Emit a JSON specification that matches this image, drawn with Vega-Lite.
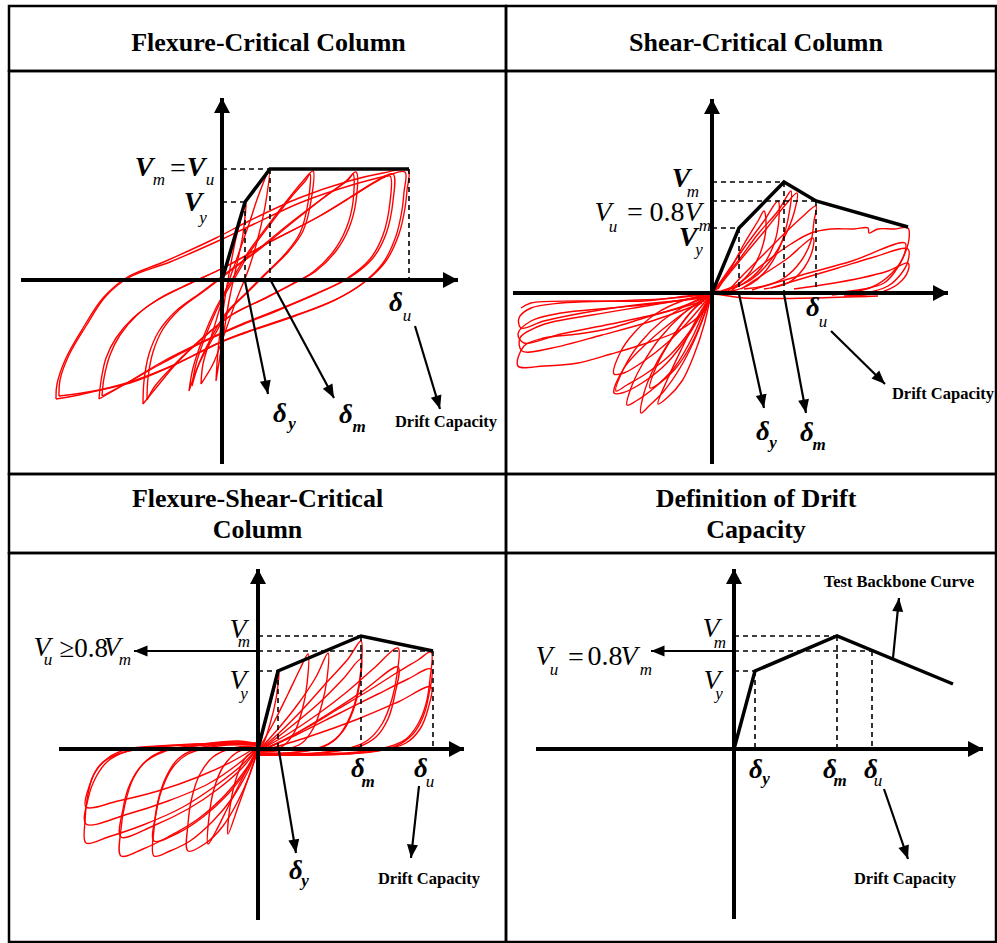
{
  "$schema": "https://vega.github.io/schema/vega-lite/v6.json",
  "description": "Hysteresis behaviour and backbone curves of flexure-, shear- and flexure-shear-critical columns, and the definition of drift capacity.",
  "padding": {"left": 7, "top": 4, "right": 0, "bottom": 0},
  "columns": 2,
  "spacing": 0,
  "bounds": "flush",
  "config": {
    "view": {"stroke": "black", "strokeWidth": 2.5},
    "concat": {"spacing": 0},
    "text": {"font": "Liberation Serif"}
  },
  "datasets": {
    "p1Loops": [
      {"cycle":"c6","drift":-166,"shear":-119},{"cycle":"c6","drift":-165,"shear":-104},{"cycle":"c6","drift":-156,"shear":-78},{"cycle":"c6","drift":-139,"shear":-48},{"cycle":"c6","drift":-119,"shear":-18},{"cycle":"c6","drift":-96,"shear":2},{"cycle":"c6","drift":-56,"shear":19},{"cycle":"c6","drift":-6,"shear":42},{"cycle":"c6","drift":27,"shear":59},{"cycle":"c6","drift":77,"shear":82},{"cycle":"c6","drift":127,"shear":99},{"cycle":"c6","drift":161,"shear":107},{"cycle":"c6","drift":186,"shear":110},{"cycle":"c6","drift":185,"shear":90},{"cycle":"c6","drift":183,"shear":72},{"cycle":"c6","drift":177,"shear":46},{"cycle":"c6","drift":164,"shear":19},{"cycle":"c6","drift":144,"shear":-1},{"cycle":"c6","drift":117,"shear":-18},{"cycle":"c6","drift":77,"shear":-34},{"cycle":"c6","drift":27,"shear":-51},{"cycle":"c6","drift":1,"shear":-61},{"cycle":"c6","drift":-46,"shear":-84},{"cycle":"c6","drift":-89,"shear":-101},{"cycle":"c6","drift":-139,"shear":-114},{"cycle":"c6","drift":-166,"shear":-119},
      {"cycle":"c6b","drift":-163,"shear":-116},{"cycle":"c6b","drift":-162,"shear":-100},{"cycle":"c6b","drift":-153,"shear":-75},{"cycle":"c6b","drift":-136,"shear":-46},{"cycle":"c6b","drift":-116,"shear":-16},{"cycle":"c6b","drift":-92,"shear":3},{"cycle":"c6b","drift":-52,"shear":18},{"cycle":"c6b","drift":-4,"shear":39},{"cycle":"c6b","drift":30,"shear":55},{"cycle":"c6b","drift":80,"shear":78},{"cycle":"c6b","drift":130,"shear":95},{"cycle":"c6b","drift":164,"shear":104},{"cycle":"c6b","drift":183,"shear":108},{"cycle":"c6b","drift":182,"shear":88},{"cycle":"c6b","drift":180,"shear":70},{"cycle":"c6b","drift":174,"shear":44},{"cycle":"c6b","drift":161,"shear":17},{"cycle":"c6b","drift":141,"shear":-3},{"cycle":"c6b","drift":113,"shear":-20},{"cycle":"c6b","drift":73,"shear":-36},{"cycle":"c6b","drift":23,"shear":-53},{"cycle":"c6b","drift":-3,"shear":-63},{"cycle":"c6b","drift":-50,"shear":-86},{"cycle":"c6b","drift":-92,"shear":-103},{"cycle":"c6b","drift":-140,"shear":-113},{"cycle":"c6b","drift":-163,"shear":-116},
      {"cycle":"c5","drift":-123,"shear":-119},{"cycle":"c5","drift":-121,"shear":-101},{"cycle":"c5","drift":-116,"shear":-78},{"cycle":"c5","drift":-106,"shear":-58},{"cycle":"c5","drift":-89,"shear":-38},{"cycle":"c5","drift":-66,"shear":-21},{"cycle":"c5","drift":-33,"shear":-4},{"cycle":"c5","drift":1,"shear":12},{"cycle":"c5","drift":44,"shear":36},{"cycle":"c5","drift":94,"shear":62},{"cycle":"c5","drift":127,"shear":82},{"cycle":"c5","drift":154,"shear":99},{"cycle":"c5","drift":171,"shear":106},{"cycle":"c5","drift":171,"shear":79},{"cycle":"c5","drift":164,"shear":46},{"cycle":"c5","drift":151,"shear":22},{"cycle":"c5","drift":127,"shear":2},{"cycle":"c5","drift":94,"shear":-14},{"cycle":"c5","drift":60,"shear":-28},{"cycle":"c5","drift":20,"shear":-44},{"cycle":"c5","drift":-20,"shear":-62},{"cycle":"c5","drift":-60,"shear":-82},{"cycle":"c5","drift":-95,"shear":-103},{"cycle":"c5","drift":-123,"shear":-119},
      {"cycle":"c5b","drift":-120,"shear":-116},{"cycle":"c5b","drift":-118,"shear":-98},{"cycle":"c5b","drift":-112,"shear":-75},{"cycle":"c5b","drift":-102,"shear":-55},{"cycle":"c5b","drift":-85,"shear":-35},{"cycle":"c5b","drift":-62,"shear":-18},{"cycle":"c5b","drift":-29,"shear":-2},{"cycle":"c5b","drift":5,"shear":14},{"cycle":"c5b","drift":48,"shear":38},{"cycle":"c5b","drift":98,"shear":64},{"cycle":"c5b","drift":131,"shear":84},{"cycle":"c5b","drift":157,"shear":100},{"cycle":"c5b","drift":168,"shear":104},{"cycle":"c5b","drift":168,"shear":78},{"cycle":"c5b","drift":161,"shear":45},{"cycle":"c5b","drift":148,"shear":21},{"cycle":"c5b","drift":124,"shear":1},{"cycle":"c5b","drift":91,"shear":-15},{"cycle":"c5b","drift":57,"shear":-30},{"cycle":"c5b","drift":17,"shear":-46},{"cycle":"c5b","drift":-23,"shear":-64},{"cycle":"c5b","drift":-63,"shear":-85},{"cycle":"c5b","drift":-97,"shear":-104},{"cycle":"c5b","drift":-120,"shear":-116},
      {"cycle":"c4","drift":-79,"shear":-124},{"cycle":"c4","drift":-78,"shear":-101},{"cycle":"c4","drift":-73,"shear":-74},{"cycle":"c4","drift":-63,"shear":-51},{"cycle":"c4","drift":-46,"shear":-31},{"cycle":"c4","drift":-19,"shear":-11},{"cycle":"c4","drift":7,"shear":9},{"cycle":"c4","drift":34,"shear":29},{"cycle":"c4","drift":67,"shear":56},{"cycle":"c4","drift":101,"shear":82},{"cycle":"c4","drift":124,"shear":99},{"cycle":"c4","drift":134,"shear":108},{"cycle":"c4","drift":134,"shear":79},{"cycle":"c4","drift":127,"shear":52},{"cycle":"c4","drift":114,"shear":29},{"cycle":"c4","drift":94,"shear":9},{"cycle":"c4","drift":71,"shear":-4},{"cycle":"c4","drift":44,"shear":-18},{"cycle":"c4","drift":11,"shear":-34},{"cycle":"c4","drift":-19,"shear":-58},{"cycle":"c4","drift":-46,"shear":-84},{"cycle":"c4","drift":-66,"shear":-108},{"cycle":"c4","drift":-79,"shear":-124},
      {"cycle":"c4b","drift":-75,"shear":-120},{"cycle":"c4b","drift":-74,"shear":-98},{"cycle":"c4b","drift":-69,"shear":-72},{"cycle":"c4b","drift":-59,"shear":-49},{"cycle":"c4b","drift":-42,"shear":-29},{"cycle":"c4b","drift":-15,"shear":-9},{"cycle":"c4b","drift":11,"shear":11},{"cycle":"c4b","drift":38,"shear":31},{"cycle":"c4b","drift":71,"shear":58},{"cycle":"c4b","drift":104,"shear":84},{"cycle":"c4b","drift":126,"shear":100},{"cycle":"c4b","drift":131,"shear":106},{"cycle":"c4b","drift":131,"shear":78},{"cycle":"c4b","drift":124,"shear":51},{"cycle":"c4b","drift":111,"shear":28},{"cycle":"c4b","drift":91,"shear":8},{"cycle":"c4b","drift":68,"shear":-5},{"cycle":"c4b","drift":41,"shear":-19},{"cycle":"c4b","drift":8,"shear":-36},{"cycle":"c4b","drift":-22,"shear":-60},{"cycle":"c4b","drift":-49,"shear":-86},{"cycle":"c4b","drift":-67,"shear":-106},{"cycle":"c4b","drift":-75,"shear":-120},
      {"cycle":"c3","drift":-33,"shear":-111},{"cycle":"c3","drift":-29,"shear":-88},{"cycle":"c3","drift":-19,"shear":-58},{"cycle":"c3","drift":-6,"shear":-28},{"cycle":"c3","drift":11,"shear":2},{"cycle":"c3","drift":27,"shear":29},{"cycle":"c3","drift":47,"shear":56},{"cycle":"c3","drift":67,"shear":82},{"cycle":"c3","drift":81,"shear":99},{"cycle":"c3","drift":91,"shear":109},{"cycle":"c3","drift":89,"shear":79},{"cycle":"c3","drift":81,"shear":49},{"cycle":"c3","drift":67,"shear":29},{"cycle":"c3","drift":47,"shear":9},{"cycle":"c3","drift":27,"shear":-11},{"cycle":"c3","drift":7,"shear":-31},{"cycle":"c3","drift":-9,"shear":-58},{"cycle":"c3","drift":-23,"shear":-84},{"cycle":"c3","drift":-33,"shear":-111},
      {"cycle":"c3b","drift":-30,"shear":-106},{"cycle":"c3b","drift":-26,"shear":-84},{"cycle":"c3b","drift":-16,"shear":-55},{"cycle":"c3b","drift":-3,"shear":-25},{"cycle":"c3b","drift":14,"shear":4},{"cycle":"c3b","drift":30,"shear":31},{"cycle":"c3b","drift":50,"shear":58},{"cycle":"c3b","drift":70,"shear":84},{"cycle":"c3b","drift":84,"shear":100},{"cycle":"c3b","drift":88,"shear":106},{"cycle":"c3b","drift":86,"shear":77},{"cycle":"c3b","drift":78,"shear":47},{"cycle":"c3b","drift":64,"shear":27},{"cycle":"c3b","drift":44,"shear":7},{"cycle":"c3b","drift":24,"shear":-13},{"cycle":"c3b","drift":4,"shear":-33},{"cycle":"c3b","drift":-12,"shear":-60},{"cycle":"c3b","drift":-24,"shear":-86},{"cycle":"c3b","drift":-30,"shear":-106},
      {"cycle":"c2","drift":-21,"shear":-104},{"cycle":"c2","drift":-19,"shear":-84},{"cycle":"c2","drift":-9,"shear":-51},{"cycle":"c2","drift":1,"shear":-18},{"cycle":"c2","drift":14,"shear":19},{"cycle":"c2","drift":27,"shear":56},{"cycle":"c2","drift":37,"shear":86},{"cycle":"c2","drift":47,"shear":109},{"cycle":"c2","drift":44,"shear":79},{"cycle":"c2","drift":37,"shear":46},{"cycle":"c2","drift":27,"shear":12},{"cycle":"c2","drift":14,"shear":-21},{"cycle":"c2","drift":1,"shear":-58},{"cycle":"c2","drift":-9,"shear":-84},{"cycle":"c2","drift":-21,"shear":-104},
      {"cycle":"c1","drift":-6,"shear":-101},{"cycle":"c1","drift":-4,"shear":-71},{"cycle":"c1","drift":1,"shear":-31},{"cycle":"c1","drift":7,"shear":6},{"cycle":"c1","drift":14,"shear":42},{"cycle":"c1","drift":21,"shear":69},{"cycle":"c1","drift":24,"shear":79},{"cycle":"c1","drift":21,"shear":46},{"cycle":"c1","drift":14,"shear":12},{"cycle":"c1","drift":7,"shear":-21},{"cycle":"c1","drift":1,"shear":-58},{"cycle":"c1","drift":-6,"shear":-101}
    ],
    "p1Backbone": [
      {"drift":0,"shear":0},{"drift":23,"shear":78},{"drift":48,"shear":111},{"drift":187,"shear":111}
    ],
    "p1Guides": [
      {"drift":0,"shear":78,"drift2":23,"shear2":78},
      {"drift":0,"shear":111,"drift2":48,"shear2":111},
      {"drift":23,"shear":78,"drift2":23,"shear2":0},
      {"drift":48,"shear":111,"drift2":48,"shear2":0},
      {"drift":187,"shear":111,"drift2":187,"shear2":0}
    ],
    "p1Axes": [
      {"drift":-201,"shear":0,"drift2":236,"shear2":0},
      {"drift":0,"shear":-184,"drift2":0,"shear2":182}
    ],
    "p1Pointers": [
      {"drift":23,"shear":-1,"drift2":46,"shear2":-114},
      {"drift":49,"shear":-1,"drift2":112,"shear2":-118},
      {"drift":193,"shear":-46,"drift2":218,"shear2":-129}
    ],
    "p1Labels": [
      {"label":"Vm","role":"V","text":"V","drift":-78,"shear":112},
      {"label":"Vm","role":"sub","text":"m","drift":-63,"shear":100},
      {"label":"Vu","role":"op","text":"=","drift":-44,"shear":111},
      {"label":"Vu","role":"V","text":"V","drift":-26,"shear":112},
      {"label":"Vu","role":"sub","text":"u","drift":-12,"shear":100},
      {"label":"Vy","role":"V","text":"V","drift":-29,"shear":77},
      {"label":"Vy","role":"sub","text":"y","drift":-19,"shear":62},
      {"label":"dy","role":"delta","text":"δ","drift":58,"shear":-134},
      {"label":"dy","role":"dsub","text":"y","drift":70,"shear":-144},
      {"label":"dm","role":"delta","text":"δ","drift":124,"shear":-135},
      {"label":"dm","role":"dsub","text":"m","drift":137,"shear":-147},
      {"label":"du","role":"delta","text":"δ","drift":174,"shear":-23},
      {"label":"du","role":"sub","text":"u","drift":185,"shear":-36},
      {"label":"drift","role":"note","text":"Drift Capacity","drift":224,"shear":-142}
    ],
    "p2Loops": [
      {"cycle":"s1","drift":3,"shear":4},{"cycle":"s1","drift":26,"shear":32},{"cycle":"s1","drift":46,"shear":59},{"cycle":"s1","drift":66,"shear":82},{"cycle":"s1","drift":79,"shear":102},{"cycle":"s1","drift":77,"shear":79},{"cycle":"s1","drift":69,"shear":49},{"cycle":"s1","drift":56,"shear":25},{"cycle":"s1","drift":39,"shear":9},{"cycle":"s1","drift":19,"shear":2},{"cycle":"s1","drift":3,"shear":2},
      {"cycle":"s2","drift":6,"shear":4},{"cycle":"s2","drift":19,"shear":25},{"cycle":"s2","drift":32,"shear":49},{"cycle":"s2","drift":46,"shear":72},{"cycle":"s2","drift":52,"shear":82},{"cycle":"s2","drift":54,"shear":65},{"cycle":"s2","drift":49,"shear":42},{"cycle":"s2","drift":39,"shear":22},{"cycle":"s2","drift":26,"shear":9},{"cycle":"s2","drift":9,"shear":2},
      {"cycle":"s3","drift":2,"shear":2},{"cycle":"s3","drift":16,"shear":22},{"cycle":"s3","drift":32,"shear":45},{"cycle":"s3","drift":52,"shear":72},{"cycle":"s3","drift":66,"shear":92},{"cycle":"s3","drift":67,"shear":75},{"cycle":"s3","drift":62,"shear":49},{"cycle":"s3","drift":49,"shear":25},{"cycle":"s3","drift":32,"shear":10},{"cycle":"s3","drift":12,"shear":2},
      {"cycle":"s4","drift":16,"shear":2},{"cycle":"s4","drift":32,"shear":19},{"cycle":"s4","drift":52,"shear":39},{"cycle":"s4","drift":72,"shear":59},{"cycle":"s4","drift":89,"shear":75},{"cycle":"s4","drift":104,"shear":87},{"cycle":"s4","drift":102,"shear":72},{"cycle":"s4","drift":99,"shear":52},{"cycle":"s4","drift":89,"shear":32},{"cycle":"s4","drift":72,"shear":15},{"cycle":"s4","drift":52,"shear":7},{"cycle":"s4","drift":32,"shear":4},
      {"cycle":"s5","drift":29,"shear":4},{"cycle":"s5","drift":52,"shear":19},{"cycle":"s5","drift":76,"shear":35},{"cycle":"s5","drift":92,"shear":49},{"cycle":"s5","drift":101,"shear":55},{"cycle":"s5","drift":101,"shear":45},{"cycle":"s5","drift":92,"shear":25},{"cycle":"s5","drift":76,"shear":10},{"cycle":"s5","drift":52,"shear":4},
      {"cycle":"s6","drift":19,"shear":2},{"cycle":"s6","drift":39,"shear":19},{"cycle":"s6","drift":59,"shear":35},{"cycle":"s6","drift":79,"shear":49},{"cycle":"s6","drift":99,"shear":60},{"cycle":"s6","drift":119,"shear":64},{"cycle":"s6","drift":142,"shear":64},{"cycle":"s6","drift":156,"shear":65},{"cycle":"s6","drift":157,"shear":60},{"cycle":"s6","drift":166,"shear":64},{"cycle":"s6","drift":182,"shear":64},{"cycle":"s6","drift":196,"shear":65},{"cycle":"s6","drift":197,"shear":54},{"cycle":"s6","drift":191,"shear":35},{"cycle":"s6","drift":182,"shear":20},{"cycle":"s6","drift":172,"shear":10},{"cycle":"s6","drift":152,"shear":4},{"cycle":"s6","drift":119,"shear":0},
      {"cycle":"s7","drift":59,"shear":5},{"cycle":"s7","drift":92,"shear":15},{"cycle":"s7","drift":126,"shear":25},{"cycle":"s7","drift":159,"shear":35},{"cycle":"s7","drift":196,"shear":44},{"cycle":"s7","drift":196,"shear":32},{"cycle":"s7","drift":189,"shear":19},{"cycle":"s7","drift":176,"shear":7},{"cycle":"s7","drift":152,"shear":0},{"cycle":"s7","drift":99,"shear":-1},
      {"cycle":"s8","drift":82,"shear":4},{"cycle":"s8","drift":116,"shear":9},{"cycle":"s8","drift":149,"shear":15},{"cycle":"s8","drift":176,"shear":22},{"cycle":"s8","drift":196,"shear":30},{"cycle":"s8","drift":196,"shear":22},{"cycle":"s8","drift":186,"shear":9},{"cycle":"s8","drift":166,"shear":0},{"cycle":"s8","drift":132,"shear":-3},
      {"cycle":"s9","drift":4,"shear":3},{"cycle":"s9","drift":30,"shear":35},{"cycle":"s9","drift":55,"shear":65},{"cycle":"s9","drift":75,"shear":90},{"cycle":"s9","drift":85,"shear":100},{"cycle":"s9","drift":82,"shear":80},{"cycle":"s9","drift":72,"shear":55},{"cycle":"s9","drift":58,"shear":32},{"cycle":"s9","drift":40,"shear":14},{"cycle":"s9","drift":20,"shear":4},
      {"cycle":"s10","drift":40,"shear":3},{"cycle":"s10","drift":90,"shear":18},{"cycle":"s10","drift":140,"shear":32},{"cycle":"s10","drift":193,"shear":50},{"cycle":"s10","drift":192,"shear":38},{"cycle":"s10","drift":180,"shear":20},{"cycle":"s10","drift":160,"shear":6},{"cycle":"s10","drift":120,"shear":-2},
      {"cycle":"a1","drift":166,"shear":-3},{"cycle":"a1","drift":99,"shear":-5},{"cycle":"a1","drift":32,"shear":-5},{"cycle":"a1","drift":-1,"shear":-1},{"cycle":"a1","drift":-68,"shear":-8},{"cycle":"a1","drift":-134,"shear":-8},{"cycle":"a1","drift":-181,"shear":-10},{"cycle":"a1","drift":-191,"shear":-15},
      {"cycle":"l1","drift":-1,"shear":-1},{"cycle":"l1","drift":-51,"shear":-6},{"cycle":"l1","drift":-101,"shear":-8},{"cycle":"l1","drift":-151,"shear":-10},{"cycle":"l1","drift":-181,"shear":-15},{"cycle":"l1","drift":-193,"shear":-25},{"cycle":"l1","drift":-191,"shear":-35},{"cycle":"l1","drift":-168,"shear":-28},{"cycle":"l1","drift":-118,"shear":-18},{"cycle":"l1","drift":-68,"shear":-11},{"cycle":"l1","drift":-18,"shear":-6},{"cycle":"l1","drift":-1,"shear":-3},
      {"cycle":"l2","drift":-1,"shear":-3},{"cycle":"l2","drift":-51,"shear":-10},{"cycle":"l2","drift":-101,"shear":-15},{"cycle":"l2","drift":-151,"shear":-20},{"cycle":"l2","drift":-181,"shear":-28},{"cycle":"l2","drift":-194,"shear":-41},{"cycle":"l2","drift":-188,"shear":-50},{"cycle":"l2","drift":-151,"shear":-41},{"cycle":"l2","drift":-101,"shear":-31},{"cycle":"l2","drift":-51,"shear":-20},{"cycle":"l2","drift":-8,"shear":-8},
      {"cycle":"l3","drift":-1,"shear":-2},{"cycle":"l3","drift":-34,"shear":-15},{"cycle":"l3","drift":-68,"shear":-25},{"cycle":"l3","drift":-101,"shear":-35},{"cycle":"l3","drift":-134,"shear":-41},{"cycle":"l3","drift":-168,"shear":-45},{"cycle":"l3","drift":-188,"shear":-53},{"cycle":"l3","drift":-194,"shear":-73},{"cycle":"l3","drift":-168,"shear":-73},{"cycle":"l3","drift":-134,"shear":-70},{"cycle":"l3","drift":-101,"shear":-61},{"cycle":"l3","drift":-68,"shear":-51},{"cycle":"l3","drift":-34,"shear":-38},{"cycle":"l3","drift":-8,"shear":-18},{"cycle":"l3","drift":-1,"shear":-5},
      {"cycle":"l4","drift":-1,"shear":-2},{"cycle":"l4","drift":-60,"shear":-12},{"cycle":"l4","drift":-120,"shear":-22},{"cycle":"l4","drift":-170,"shear":-32},{"cycle":"l4","drift":-192,"shear":-45},{"cycle":"l4","drift":-190,"shear":-58},{"cycle":"l4","drift":-160,"shear":-55},{"cycle":"l4","drift":-110,"shear":-42},{"cycle":"l4","drift":-60,"shear":-28},{"cycle":"l4","drift":-10,"shear":-10},
      {"cycle":"n1","drift":-3,"shear":-2},{"cycle":"n1","drift":-25,"shear":-12},{"cycle":"n1","drift":-50,"shear":-28},{"cycle":"n1","drift":-72,"shear":-50},{"cycle":"n1","drift":-88,"shear":-75},{"cycle":"n1","drift":-96,"shear":-98},{"cycle":"n1","drift":-85,"shear":-92},{"cycle":"n1","drift":-65,"shear":-80},{"cycle":"n1","drift":-42,"shear":-62},{"cycle":"n1","drift":-22,"shear":-38},{"cycle":"n1","drift":-8,"shear":-15},{"cycle":"n1","drift":-2,"shear":-3},
      {"cycle":"n2","drift":-3,"shear":-3},{"cycle":"n2","drift":-20,"shear":-18},{"cycle":"n2","drift":-40,"shear":-45},{"cycle":"n2","drift":-58,"shear":-75},{"cycle":"n2","drift":-68,"shear":-100},{"cycle":"n2","drift":-71,"shear":-120},{"cycle":"n2","drift":-62,"shear":-112},{"cycle":"n2","drift":-48,"shear":-98},{"cycle":"n2","drift":-32,"shear":-75},{"cycle":"n2","drift":-18,"shear":-48},{"cycle":"n2","drift":-7,"shear":-20},{"cycle":"n2","drift":-2,"shear":-4},
      {"cycle":"n3","drift":-3,"shear":-1},{"cycle":"n3","drift":-30,"shear":-8},{"cycle":"n3","drift":-55,"shear":-20},{"cycle":"n3","drift":-78,"shear":-40},{"cycle":"n3","drift":-92,"shear":-60},{"cycle":"n3","drift":-98,"shear":-81},{"cycle":"n3","drift":-88,"shear":-80},{"cycle":"n3","drift":-68,"shear":-68},{"cycle":"n3","drift":-45,"shear":-50},{"cycle":"n3","drift":-25,"shear":-30},{"cycle":"n3","drift":-8,"shear":-10},{"cycle":"n3","drift":-2,"shear":-2},
      {"cycle":"n4","drift":-2,"shear":-3},{"cycle":"n4","drift":-15,"shear":-25},{"cycle":"n4","drift":-30,"shear":-55},{"cycle":"n4","drift":-44,"shear":-85},{"cycle":"n4","drift":-54,"shear":-111},{"cycle":"n4","drift":-44,"shear":-104},{"cycle":"n4","drift":-30,"shear":-88},{"cycle":"n4","drift":-18,"shear":-62},{"cycle":"n4","drift":-8,"shear":-32},{"cycle":"n4","drift":-2,"shear":-6},
      {"cycle":"n5","drift":-3,"shear":-2},{"cycle":"n5","drift":-28,"shear":-20},{"cycle":"n5","drift":-52,"shear":-45},{"cycle":"n5","drift":-70,"shear":-72},{"cycle":"n5","drift":-81,"shear":-95},{"cycle":"n5","drift":-85,"shear":-112},{"cycle":"n5","drift":-76,"shear":-108},{"cycle":"n5","drift":-58,"shear":-95},{"cycle":"n5","drift":-38,"shear":-75},{"cycle":"n5","drift":-20,"shear":-45},{"cycle":"n5","drift":-7,"shear":-15},{"cycle":"n5","drift":-2,"shear":-3},
      {"cycle":"n6","drift":-2,"shear":-2},{"cycle":"n6","drift":-22,"shear":-20},{"cycle":"n6","drift":-40,"shear":-45},{"cycle":"n6","drift":-55,"shear":-72},{"cycle":"n6","drift":-62,"shear":-95},{"cycle":"n6","drift":-52,"shear":-90},{"cycle":"n6","drift":-36,"shear":-75},{"cycle":"n6","drift":-20,"shear":-50},{"cycle":"n6","drift":-8,"shear":-22},{"cycle":"n6","drift":-2,"shear":-3},
      {"cycle":"n7","drift":-2,"shear":-2},{"cycle":"n7","drift":-35,"shear":-25},{"cycle":"n7","drift":-65,"shear":-50},{"cycle":"n7","drift":-88,"shear":-75},{"cycle":"n7","drift":-98,"shear":-100},{"cycle":"n7","drift":-90,"shear":-100},{"cycle":"n7","drift":-70,"shear":-90},{"cycle":"n7","drift":-45,"shear":-70},{"cycle":"n7","drift":-22,"shear":-40},{"cycle":"n7","drift":-6,"shear":-12}
    ],
    "p2Backbone": [
      {"drift":0,"shear":0},{"drift":27,"shear":65},{"drift":72,"shear":111},{"drift":104,"shear":92},{"drift":196,"shear":66}
    ],
    "p2Guides": [
      {"drift":0,"shear":111,"drift2":72,"shear2":111},
      {"drift":0,"shear":92,"drift2":104,"shear2":92},
      {"drift":0,"shear":65,"drift2":27,"shear2":65},
      {"drift":27,"shear":65,"drift2":27,"shear2":0},
      {"drift":72,"shear":111,"drift2":72,"shear2":0},
      {"drift":104,"shear":92,"drift2":104,"shear2":0}
    ],
    "p2Axes": [
      {"drift":-199,"shear":0,"drift2":236,"shear2":0},
      {"drift":0,"shear":-171,"drift2":0,"shear2":194}
    ],
    "p2Pointers": [
      {"drift":27,"shear":-1,"drift2":52,"shear2":-115},
      {"drift":72,"shear":-1,"drift2":94,"shear2":-120},
      {"drift":119,"shear":-38,"drift2":173,"shear2":-91}
    ],
    "p2Labels": [
      {"label":"Vm","role":"V","text":"V","drift":-31,"shear":114},
      {"label":"Vm","role":"sub","text":"m","drift":-19,"shear":101},
      {"label":"Vu","role":"V","text":"V","drift":-109,"shear":80},
      {"label":"Vu","role":"sub","text":"u","drift":-99,"shear":66},
      {"label":"Vu","role":"op","text":"=","drift":-77,"shear":80},
      {"label":"Vu","role":"op","text":"0.8","drift":-45,"shear":80},
      {"label":"Vu","role":"V","text":"V","drift":-19,"shear":80},
      {"label":"Vu","role":"sub","text":"m","drift":-7,"shear":67},
      {"label":"Vy","role":"V","text":"V","drift":-24,"shear":55},
      {"label":"Vy","role":"sub","text":"y","drift":-13,"shear":43},
      {"label":"dy","role":"delta","text":"δ","drift":51,"shear":-139},
      {"label":"dy","role":"dsub","text":"y","drift":61,"shear":-150},
      {"label":"dm","role":"delta","text":"δ","drift":95,"shear":-140},
      {"label":"dm","role":"dsub","text":"m","drift":107,"shear":-152},
      {"label":"du","role":"delta","text":"δ","drift":101,"shear":-15},
      {"label":"du","role":"sub","text":"u","drift":111,"shear":-29},
      {"label":"drift","role":"note","text":"Drift Capacity","drift":231,"shear":-101}
    ],
    "p3Loops": [
      {"cycle":"p6","drift":0,"shear":-2},{"cycle":"p6","drift":20,"shear":6},{"cycle":"p6","drift":50,"shear":22},{"cycle":"p6","drift":80,"shear":40},{"cycle":"p6","drift":110,"shear":58},{"cycle":"p6","drift":140,"shear":77},{"cycle":"p6","drift":160,"shear":89},{"cycle":"p6","drift":173,"shear":97},{"cycle":"p6","drift":172,"shear":70},{"cycle":"p6","drift":168,"shear":45},{"cycle":"p6","drift":160,"shear":25},{"cycle":"p6","drift":148,"shear":10},{"cycle":"p6","drift":130,"shear":2},{"cycle":"p6","drift":100,"shear":-3},{"cycle":"p6","drift":60,"shear":-5},{"cycle":"p6","drift":20,"shear":-6},{"cycle":"p6","drift":0,"shear":-6},
      {"cycle":"p5","drift":0,"shear":-2},{"cycle":"p5","drift":30,"shear":15},{"cycle":"p5","drift":60,"shear":35},{"cycle":"p5","drift":90,"shear":58},{"cycle":"p5","drift":115,"shear":80},{"cycle":"p5","drift":140,"shear":101},{"cycle":"p5","drift":139,"shear":75},{"cycle":"p5","drift":134,"shear":50},{"cycle":"p5","drift":124,"shear":25},{"cycle":"p5","drift":110,"shear":9},{"cycle":"p5","drift":92,"shear":1},{"cycle":"p5","drift":60,"shear":-4},{"cycle":"p5","drift":20,"shear":-5},{"cycle":"p5","drift":0,"shear":-5},
      {"cycle":"p4","drift":0,"shear":-2},{"cycle":"p4","drift":20,"shear":15},{"cycle":"p4","drift":45,"shear":40},{"cycle":"p4","drift":70,"shear":68},{"cycle":"p4","drift":90,"shear":90},{"cycle":"p4","drift":103,"shear":108},{"cycle":"p4","drift":103,"shear":80},{"cycle":"p4","drift":98,"shear":50},{"cycle":"p4","drift":90,"shear":28},{"cycle":"p4","drift":78,"shear":10},{"cycle":"p4","drift":62,"shear":1},{"cycle":"p4","drift":30,"shear":-4},{"cycle":"p4","drift":0,"shear":-4},
      {"cycle":"p3","drift":0,"shear":-2},{"cycle":"p3","drift":20,"shear":20},{"cycle":"p3","drift":40,"shear":45},{"cycle":"p3","drift":58,"shear":72},{"cycle":"p3","drift":70,"shear":96},{"cycle":"p3","drift":69,"shear":70},{"cycle":"p3","drift":64,"shear":45},{"cycle":"p3","drift":56,"shear":22},{"cycle":"p3","drift":44,"shear":6},{"cycle":"p3","drift":25,"shear":-1},{"cycle":"p3","drift":0,"shear":-3},
      {"cycle":"p2","drift":0,"shear":-1},{"cycle":"p2","drift":15,"shear":25},{"cycle":"p2","drift":30,"shear":55},{"cycle":"p2","drift":42,"shear":80},{"cycle":"p2","drift":50,"shear":95},{"cycle":"p2","drift":49,"shear":65},{"cycle":"p2","drift":44,"shear":38},{"cycle":"p2","drift":36,"shear":16},{"cycle":"p2","drift":25,"shear":3},{"cycle":"p2","drift":10,"shear":-2},{"cycle":"p2","drift":0,"shear":-2},
      {"cycle":"p1","drift":0,"shear":0},{"cycle":"p1","drift":8,"shear":30},{"cycle":"p1","drift":15,"shear":55},{"cycle":"p1","drift":21,"shear":78},{"cycle":"p1","drift":18,"shear":50},{"cycle":"p1","drift":12,"shear":25},{"cycle":"p1","drift":5,"shear":5},{"cycle":"p1","drift":0,"shear":0},
      {"cycle":"p6b","drift":0,"shear":-3},{"cycle":"p6b","drift":40,"shear":15},{"cycle":"p6b","drift":80,"shear":35},{"cycle":"p6b","drift":120,"shear":55},{"cycle":"p6b","drift":150,"shear":70},{"cycle":"p6b","drift":173,"shear":80},{"cycle":"p6b","drift":171,"shear":55},{"cycle":"p6b","drift":165,"shear":32},{"cycle":"p6b","drift":155,"shear":15},{"cycle":"p6b","drift":138,"shear":3},{"cycle":"p6b","drift":100,"shear":-4},{"cycle":"p6b","drift":50,"shear":-6},{"cycle":"p6b","drift":0,"shear":-6},
      {"cycle":"p6c","drift":0,"shear":-3},{"cycle":"p6c","drift":50,"shear":12},{"cycle":"p6c","drift":100,"shear":30},{"cycle":"p6c","drift":140,"shear":47},{"cycle":"p6c","drift":173,"shear":62},{"cycle":"p6c","drift":170,"shear":40},{"cycle":"p6c","drift":162,"shear":20},{"cycle":"p6c","drift":148,"shear":6},{"cycle":"p6c","drift":120,"shear":-2},{"cycle":"p6c","drift":60,"shear":-6},{"cycle":"p6c","drift":0,"shear":-6},
      {"cycle":"p5b","drift":0,"shear":-3},{"cycle":"p5b","drift":35,"shear":14},{"cycle":"p5b","drift":70,"shear":35},{"cycle":"p5b","drift":105,"shear":58},{"cycle":"p5b","drift":140,"shear":82},{"cycle":"p5b","drift":137,"shear":55},{"cycle":"p5b","drift":130,"shear":30},{"cycle":"p5b","drift":118,"shear":12},{"cycle":"p5b","drift":100,"shear":2},{"cycle":"p5b","drift":60,"shear":-4},{"cycle":"p5b","drift":0,"shear":-5},
      {"cycle":"p4b","drift":0,"shear":-3},{"cycle":"p4b","drift":30,"shear":20},{"cycle":"p4b","drift":60,"shear":45},{"cycle":"p4b","drift":85,"shear":70},{"cycle":"p4b","drift":103,"shear":90},{"cycle":"p4b","drift":101,"shear":62},{"cycle":"p4b","drift":95,"shear":38},{"cycle":"p4b","drift":85,"shear":18},{"cycle":"p4b","drift":70,"shear":5},{"cycle":"p4b","drift":40,"shear":-3},{"cycle":"p4b","drift":0,"shear":-4},
      {"cycle":"q6","drift":0,"shear":2},{"cycle":"q6","drift":-15,"shear":-15},{"cycle":"q6","drift":-40,"shear":-35},{"cycle":"q6","drift":-75,"shear":-58},{"cycle":"q6","drift":-115,"shear":-76},{"cycle":"q6","drift":-150,"shear":-88},{"cycle":"q6","drift":-172,"shear":-94},{"cycle":"q6","drift":-173,"shear":-72},{"cycle":"q6","drift":-170,"shear":-45},{"cycle":"q6","drift":-164,"shear":-25},{"cycle":"q6","drift":-150,"shear":-9},{"cycle":"q6","drift":-130,"shear":0},{"cycle":"q6","drift":-100,"shear":3},{"cycle":"q6","drift":-60,"shear":5},{"cycle":"q6","drift":-20,"shear":8},{"cycle":"q6","drift":0,"shear":5},
      {"cycle":"q5","drift":0,"shear":1},{"cycle":"q5","drift":-12,"shear":-20},{"cycle":"q5","drift":-32,"shear":-45},{"cycle":"q5","drift":-60,"shear":-70},{"cycle":"q5","drift":-90,"shear":-88},{"cycle":"q5","drift":-115,"shear":-100},{"cycle":"q5","drift":-137,"shear":-107},{"cycle":"q5","drift":-137,"shear":-80},{"cycle":"q5","drift":-133,"shear":-55},{"cycle":"q5","drift":-125,"shear":-30},{"cycle":"q5","drift":-112,"shear":-12},{"cycle":"q5","drift":-95,"shear":-2},{"cycle":"q5","drift":-60,"shear":4},{"cycle":"q5","drift":-20,"shear":7},{"cycle":"q5","drift":0,"shear":4},
      {"cycle":"q4","drift":0,"shear":1},{"cycle":"q4","drift":-10,"shear":-22},{"cycle":"q4","drift":-25,"shear":-48},{"cycle":"q4","drift":-45,"shear":-72},{"cycle":"q4","drift":-68,"shear":-92},{"cycle":"q4","drift":-88,"shear":-102},{"cycle":"q4","drift":-104,"shear":-107},{"cycle":"q4","drift":-104,"shear":-80},{"cycle":"q4","drift":-100,"shear":-52},{"cycle":"q4","drift":-92,"shear":-28},{"cycle":"q4","drift":-80,"shear":-10},{"cycle":"q4","drift":-62,"shear":0},{"cycle":"q4","drift":-30,"shear":5},{"cycle":"q4","drift":0,"shear":4},
      {"cycle":"q3","drift":0,"shear":0},{"cycle":"q3","drift":-8,"shear":-25},{"cycle":"q3","drift":-20,"shear":-52},{"cycle":"q3","drift":-35,"shear":-77},{"cycle":"q3","drift":-52,"shear":-94},{"cycle":"q3","drift":-70,"shear":-102},{"cycle":"q3","drift":-70,"shear":-75},{"cycle":"q3","drift":-66,"shear":-48},{"cycle":"q3","drift":-58,"shear":-25},{"cycle":"q3","drift":-45,"shear":-8},{"cycle":"q3","drift":-25,"shear":1},{"cycle":"q3","drift":0,"shear":3},
      {"cycle":"q2","drift":0,"shear":0},{"cycle":"q2","drift":-15,"shear":-28},{"cycle":"q2","drift":-30,"shear":-58},{"cycle":"q2","drift":-42,"shear":-82},{"cycle":"q2","drift":-50,"shear":-95},{"cycle":"q2","drift":-49,"shear":-68},{"cycle":"q2","drift":-44,"shear":-40},{"cycle":"q2","drift":-35,"shear":-18},{"cycle":"q2","drift":-22,"shear":-4},{"cycle":"q2","drift":-8,"shear":1},{"cycle":"q2","drift":0,"shear":1},
      {"cycle":"q1","drift":0,"shear":0},{"cycle":"q1","drift":-10,"shear":-30},{"cycle":"q1","drift":-20,"shear":-58},{"cycle":"q1","drift":-30,"shear":-85},{"cycle":"q1","drift":-28,"shear":-58},{"cycle":"q1","drift":-22,"shear":-30},{"cycle":"q1","drift":-12,"shear":-8},{"cycle":"q1","drift":0,"shear":0},
      {"cycle":"q6b","drift":0,"shear":3},{"cycle":"q6b","drift":-20,"shear":-15},{"cycle":"q6b","drift":-50,"shear":-35},{"cycle":"q6b","drift":-90,"shear":-52},{"cycle":"q6b","drift":-130,"shear":-65},{"cycle":"q6b","drift":-172,"shear":-75},{"cycle":"q6b","drift":-170,"shear":-50},{"cycle":"q6b","drift":-162,"shear":-28},{"cycle":"q6b","drift":-150,"shear":-12},{"cycle":"q6b","drift":-130,"shear":-2},{"cycle":"q6b","drift":-80,"shear":4},{"cycle":"q6b","drift":0,"shear":6},
      {"cycle":"q6c","drift":0,"shear":3},{"cycle":"q6c","drift":-25,"shear":-12},{"cycle":"q6c","drift":-60,"shear":-28},{"cycle":"q6c","drift":-100,"shear":-42},{"cycle":"q6c","drift":-140,"shear":-52},{"cycle":"q6c","drift":-172,"shear":-58},{"cycle":"q6c","drift":-168,"shear":-35},{"cycle":"q6c","drift":-158,"shear":-16},{"cycle":"q6c","drift":-140,"shear":-5},{"cycle":"q6c","drift":-100,"shear":2},{"cycle":"q6c","drift":0,"shear":6},
      {"cycle":"q5b","drift":0,"shear":2},{"cycle":"q5b","drift":-15,"shear":-18},{"cycle":"q5b","drift":-40,"shear":-40},{"cycle":"q5b","drift":-70,"shear":-60},{"cycle":"q5b","drift":-105,"shear":-77},{"cycle":"q5b","drift":-137,"shear":-88},{"cycle":"q5b","drift":-135,"shear":-60},{"cycle":"q5b","drift":-128,"shear":-35},{"cycle":"q5b","drift":-115,"shear":-15},{"cycle":"q5b","drift":-95,"shear":-3},{"cycle":"q5b","drift":-50,"shear":4},{"cycle":"q5b","drift":0,"shear":5},
      {"cycle":"q4b","drift":0,"shear":2},{"cycle":"q4b","drift":-12,"shear":-22},{"cycle":"q4b","drift":-30,"shear":-45},{"cycle":"q4b","drift":-55,"shear":-68},{"cycle":"q4b","drift":-80,"shear":-84},{"cycle":"q4b","drift":-104,"shear":-92},{"cycle":"q4b","drift":-102,"shear":-65},{"cycle":"q4b","drift":-96,"shear":-40},{"cycle":"q4b","drift":-85,"shear":-18},{"cycle":"q4b","drift":-70,"shear":-5},{"cycle":"q4b","drift":-40,"shear":3},{"cycle":"q4b","drift":0,"shear":4}
    ],
    "p3Backbone": [
      {"drift":0,"shear":0},{"drift":20,"shear":78},{"drift":103,"shear":113},{"drift":175,"shear":98}
    ],
    "p3Guides": [
      {"drift":0,"shear":113,"drift2":103,"shear2":113},
      {"drift":0,"shear":98,"drift2":175,"shear2":98},
      {"drift":0,"shear":78,"drift2":20,"shear2":78},
      {"drift":20,"shear":78,"drift2":20,"shear2":0},
      {"drift":103,"shear":113,"drift2":103,"shear2":0},
      {"drift":175,"shear":98,"drift2":175,"shear2":0}
    ],
    "p3Axes": [
      {"drift":-199,"shear":0,"drift2":206,"shear2":0},
      {"drift":0,"shear":-171,"drift2":0,"shear2":180}
    ],
    "p3Pointers": [
      {"drift":0,"shear":98,"drift2":-124,"shear2":98},
      {"drift":21,"shear":-2,"drift2":38,"shear2":-104},
      {"drift":161,"shear":-37,"drift2":153,"shear2":-109}
    ],
    "p3Labels": [
      {"label":"Vu","role":"V","text":"V","drift":-216,"shear":101},
      {"label":"Vu","role":"sub","text":"u","drift":-210,"shear":89},
      {"label":"Vu","role":"op","text":"≥","drift":-191,"shear":100},
      {"label":"Vu","role":"op","text":"0.8","drift":-167,"shear":100},
      {"label":"Vu","role":"V","text":"V","drift":-146,"shear":101},
      {"label":"Vu","role":"sub","text":"m","drift":-133,"shear":89},
      {"label":"Vm","role":"V","text":"V","drift":-20,"shear":119},
      {"label":"Vm","role":"sub","text":"m","drift":-14,"shear":107},
      {"label":"Vy","role":"V","text":"V","drift":-20,"shear":68},
      {"label":"Vy","role":"sub","text":"y","drift":-14,"shear":55},
      {"label":"dm","role":"delta","text":"δ","drift":100,"shear":-20},
      {"label":"dm","role":"dsub","text":"m","drift":110,"shear":-33},
      {"label":"du","role":"delta","text":"δ","drift":163,"shear":-20},
      {"label":"du","role":"sub","text":"u","drift":172,"shear":-33},
      {"label":"dy","role":"delta","text":"δ","drift":38,"shear":-122},
      {"label":"dy","role":"dsub","text":"y","drift":47,"shear":-132},
      {"label":"drift","role":"note","text":"Drift Capacity","drift":171,"shear":-130}
    ],
    "p4Backbone": [
      {"drift":0,"shear":0},{"drift":21,"shear":78},{"drift":103,"shear":113},{"drift":219,"shear":65}
    ],
    "p4Guides": [
      {"drift":0,"shear":113,"drift2":103,"shear2":113},
      {"drift":0,"shear":98,"drift2":138,"shear2":98},
      {"drift":0,"shear":78,"drift2":21,"shear2":78},
      {"drift":21,"shear":78,"drift2":21,"shear2":0},
      {"drift":103,"shear":113,"drift2":103,"shear2":0},
      {"drift":138,"shear":98,"drift2":138,"shear2":0}
    ],
    "p4Axes": [
      {"drift":-198,"shear":0,"drift2":249,"shear2":0},
      {"drift":0,"shear":-170,"drift2":0,"shear2":180}
    ],
    "p4Pointers": [
      {"drift":0,"shear":98,"drift2":-83,"shear2":98},
      {"drift":159,"shear":91,"drift2":165,"shear2":151},
      {"drift":150,"shear":-40,"drift2":174,"shear2":-110}
    ],
    "p4Labels": [
      {"label":"Vu","role":"V","text":"V","drift":-190,"shear":92},
      {"label":"Vu","role":"sub","text":"u","drift":-180,"shear":79},
      {"label":"Vu","role":"op","text":"=","drift":-158,"shear":91},
      {"label":"Vu","role":"op","text":"0.8","drift":-129,"shear":92},
      {"label":"Vu","role":"V","text":"V","drift":-105,"shear":92},
      {"label":"Vu","role":"sub","text":"m","drift":-88,"shear":79},
      {"label":"Vm","role":"V","text":"V","drift":-23,"shear":120},
      {"label":"Vm","role":"sub","text":"m","drift":-14,"shear":106},
      {"label":"Vy","role":"V","text":"V","drift":-22,"shear":68},
      {"label":"Vy","role":"sub","text":"y","drift":-15,"shear":55},
      {"label":"dy","role":"delta","text":"δ","drift":22,"shear":-21},
      {"label":"dy","role":"dsub","text":"y","drift":32,"shear":-30},
      {"label":"dm","role":"delta","text":"δ","drift":96,"shear":-21},
      {"label":"dm","role":"dsub","text":"m","drift":106,"shear":-32},
      {"label":"du","role":"delta","text":"δ","drift":137,"shear":-21},
      {"label":"du","role":"sub","text":"u","drift":144,"shear":-32},
      {"label":"backbone","role":"note","text":"Test Backbone Curve","drift":165,"shear":167},
      {"label":"drift","role":"note","text":"Drift Capacity","drift":171,"shear":-130}
    ]
  },
  "concat": [
    {
      "width": 497, "height": 65,
      "data": {"values": [{"title": "Flexure-Critical Column", "across": 0.5, "down": 0.5}]},
      "mark": {"type": "text", "font": "Liberation Serif", "fontSize": 26, "fontWeight": "bold", "align": "center", "baseline": "middle", "dx": 11, "dy": 4},
      "encoding": {
        "x": {"field": "across", "type": "quantitative", "scale": {"domain": [0, 1]}, "axis": null},
        "y": {"field": "down", "type": "quantitative", "scale": {"domain": [0, 1]}, "axis": null},
        "text": {"field": "title"}
      }
    },
    {
      "width": 490, "height": 65,
      "data": {"values": [{"title": "Shear-Critical Column", "across": 0.5, "down": 0.5}]},
      "mark": {"type": "text", "font": "Liberation Serif", "fontSize": 26, "fontWeight": "bold", "align": "center", "baseline": "middle", "dx": 5, "dy": 4},
      "encoding": {
        "x": {"field": "across", "type": "quantitative", "scale": {"domain": [0, 1]}, "axis": null},
        "y": {"field": "down", "type": "quantitative", "scale": {"domain": [0, 1]}, "axis": null},
        "text": {"field": "title"}
      }
    },
    {
      "width": 497, "height": 403,
      "encoding": {
        "x": {"field": "drift", "type": "quantitative", "scale": {"domain": [-213, 284], "nice": false, "zero": false}, "axis": null},
        "y": {"field": "shear", "type": "quantitative", "scale": {"domain": [-194, 209], "nice": false, "zero": false}, "axis": null}
      },
      "layer": [
        {"data": {"name": "p1Loops"}, "mark": {"type": "line", "color": "#ff0000", "strokeWidth": 1.4, "interpolate": "catmull-rom", "clip": true}, "encoding": {"detail": {"field": "cycle"}, "order": {"value": null}}},
        {"data": {"name": "p1Guides"}, "mark": {"type": "rule", "color": "black", "strokeWidth": 1.6, "strokeDash": [5, 4], "clip": true}, "encoding": {"x2": {"field": "drift2"}, "y2": {"field": "shear2"}}},
        {"data": {"name": "p1Axes"}, "mark": {"type": "rule", "color": "black", "strokeWidth": 4, "clip": true}, "encoding": {"x2": {"field": "drift2"}, "y2": {"field": "shear2"}}},
        {"data": {"name": "p1Axes"}, "transform": [{"calculate": "atan2(datum.drift2 - datum.drift, datum.shear2 - datum.shear) * 180 / PI", "as": "heading"}, {"calculate": "datum.drift2", "as": "drift"}, {"calculate": "datum.shear2", "as": "shear"}], "mark": {"type": "point", "shape": "M0,0L0.8,1.5L-0.8,1.5Z", "filled": true, "color": "black", "opacity": 1, "size": 400, "clip": true}, "encoding": {"angle": {"field": "heading", "type": "quantitative", "scale": null}}},
        {"data": {"name": "p1Backbone"}, "mark": {"type": "line", "color": "black", "strokeWidth": 3.5, "strokeJoin": "miter", "clip": true}, "encoding": {"order": {"value": null}}},
        {"data": {"name": "p1Pointers"}, "mark": {"type": "rule", "color": "black", "strokeWidth": 2.2, "clip": true}, "encoding": {"x2": {"field": "drift2"}, "y2": {"field": "shear2"}}},
        {"data": {"name": "p1Pointers"}, "transform": [{"calculate": "atan2(datum.drift2 - datum.drift, datum.shear2 - datum.shear) * 180 / PI", "as": "heading"}, {"calculate": "datum.drift2", "as": "drift"}, {"calculate": "datum.shear2", "as": "shear"}], "mark": {"type": "point", "shape": "M0,0L0.55,1.35L-0.55,1.35Z", "filled": true, "color": "black", "opacity": 1, "size": 400, "clip": true}, "encoding": {"angle": {"field": "heading", "type": "quantitative", "scale": null}}},
        {"data": {"name": "p1Labels"}, "transform": [{"filter": "datum.role === 'V'"}], "mark": {"type": "text", "font": "Liberation Serif", "fontSize": 28, "fontStyle": "italic", "fontWeight": "bold", "align": "center", "baseline": "middle", "clip": true}, "encoding": {"text": {"field": "text"}}},
        {"data": {"name": "p1Labels"}, "transform": [{"filter": "datum.role === 'sub'"}], "mark": {"type": "text", "font": "Liberation Serif", "fontSize": 17, "fontStyle": "italic", "align": "center", "baseline": "middle", "clip": true}, "encoding": {"text": {"field": "text"}}},
        {"data": {"name": "p1Labels"}, "transform": [{"filter": "datum.role === 'op'"}], "mark": {"type": "text", "font": "Liberation Serif", "fontSize": 28, "align": "center", "baseline": "middle", "clip": true}, "encoding": {"text": {"field": "text"}}},
        {"data": {"name": "p1Labels"}, "transform": [{"filter": "datum.role === 'delta'"}], "mark": {"type": "text", "font": "Liberation Serif", "fontSize": 27, "fontStyle": "italic", "fontWeight": "bold", "align": "center", "baseline": "middle", "clip": true}, "encoding": {"text": {"field": "text"}}},
        {"data": {"name": "p1Labels"}, "transform": [{"filter": "datum.role === 'dsub'"}], "mark": {"type": "text", "font": "Liberation Serif", "fontSize": 17, "fontStyle": "italic", "fontWeight": "bold", "align": "center", "baseline": "middle", "clip": true}, "encoding": {"text": {"field": "text"}}},
        {"data": {"name": "p1Labels"}, "transform": [{"filter": "datum.role === 'note'"}], "mark": {"type": "text", "font": "Liberation Serif", "fontSize": 16.5, "fontWeight": "bold", "align": "center", "baseline": "middle", "clip": true}, "encoding": {"text": {"field": "text"}}}
      ]
    },
    {
      "width": 490, "height": 403,
      "encoding": {
        "x": {"field": "drift", "type": "quantitative", "scale": {"domain": [-206, 284], "nice": false, "zero": false}, "axis": null},
        "y": {"field": "shear", "type": "quantitative", "scale": {"domain": [-181, 222], "nice": false, "zero": false}, "axis": null}
      },
      "layer": [
        {"data": {"name": "p2Loops"}, "mark": {"type": "line", "color": "#ff0000", "strokeWidth": 1.4, "interpolate": "catmull-rom", "clip": true}, "encoding": {"detail": {"field": "cycle"}, "order": {"value": null}}},
        {"data": {"name": "p2Guides"}, "mark": {"type": "rule", "color": "black", "strokeWidth": 1.6, "strokeDash": [5, 4], "clip": true}, "encoding": {"x2": {"field": "drift2"}, "y2": {"field": "shear2"}}},
        {"data": {"name": "p2Axes"}, "mark": {"type": "rule", "color": "black", "strokeWidth": 4, "clip": true}, "encoding": {"x2": {"field": "drift2"}, "y2": {"field": "shear2"}}},
        {"data": {"name": "p2Axes"}, "transform": [{"calculate": "atan2(datum.drift2 - datum.drift, datum.shear2 - datum.shear) * 180 / PI", "as": "heading"}, {"calculate": "datum.drift2", "as": "drift"}, {"calculate": "datum.shear2", "as": "shear"}], "mark": {"type": "point", "shape": "M0,0L0.8,1.5L-0.8,1.5Z", "filled": true, "color": "black", "opacity": 1, "size": 400, "clip": true}, "encoding": {"angle": {"field": "heading", "type": "quantitative", "scale": null}}},
        {"data": {"name": "p2Backbone"}, "mark": {"type": "line", "color": "black", "strokeWidth": 3.5, "strokeJoin": "miter", "clip": true}, "encoding": {"order": {"value": null}}},
        {"data": {"name": "p2Pointers"}, "mark": {"type": "rule", "color": "black", "strokeWidth": 2.2, "clip": true}, "encoding": {"x2": {"field": "drift2"}, "y2": {"field": "shear2"}}},
        {"data": {"name": "p2Pointers"}, "transform": [{"calculate": "atan2(datum.drift2 - datum.drift, datum.shear2 - datum.shear) * 180 / PI", "as": "heading"}, {"calculate": "datum.drift2", "as": "drift"}, {"calculate": "datum.shear2", "as": "shear"}], "mark": {"type": "point", "shape": "M0,0L0.55,1.35L-0.55,1.35Z", "filled": true, "color": "black", "opacity": 1, "size": 400, "clip": true}, "encoding": {"angle": {"field": "heading", "type": "quantitative", "scale": null}}},
        {"data": {"name": "p2Labels"}, "transform": [{"filter": "datum.role === 'V' && datum.label !== 'Vu'"}], "mark": {"type": "text", "font": "Liberation Serif", "fontSize": 28, "fontStyle": "italic", "fontWeight": "bold", "align": "center", "baseline": "middle", "clip": true}, "encoding": {"text": {"field": "text"}}},
        {"data": {"name": "p2Labels"}, "transform": [{"filter": "datum.role === 'V' && datum.label === 'Vu'"}], "mark": {"type": "text", "font": "Liberation Serif", "fontSize": 28, "fontStyle": "italic", "align": "center", "baseline": "middle", "clip": true}, "encoding": {"text": {"field": "text"}}},
        {"data": {"name": "p2Labels"}, "transform": [{"filter": "datum.role === 'sub'"}], "mark": {"type": "text", "font": "Liberation Serif", "fontSize": 17, "fontStyle": "italic", "align": "center", "baseline": "middle", "clip": true}, "encoding": {"text": {"field": "text"}}},
        {"data": {"name": "p2Labels"}, "transform": [{"filter": "datum.role === 'op'"}], "mark": {"type": "text", "font": "Liberation Serif", "fontSize": 28, "align": "center", "baseline": "middle", "clip": true}, "encoding": {"text": {"field": "text"}}},
        {"data": {"name": "p2Labels"}, "transform": [{"filter": "datum.role === 'delta'"}], "mark": {"type": "text", "font": "Liberation Serif", "fontSize": 27, "fontStyle": "italic", "fontWeight": "bold", "align": "center", "baseline": "middle", "clip": true}, "encoding": {"text": {"field": "text"}}},
        {"data": {"name": "p2Labels"}, "transform": [{"filter": "datum.role === 'dsub'"}], "mark": {"type": "text", "font": "Liberation Serif", "fontSize": 17, "fontStyle": "italic", "fontWeight": "bold", "align": "center", "baseline": "middle", "clip": true}, "encoding": {"text": {"field": "text"}}},
        {"data": {"name": "p2Labels"}, "transform": [{"filter": "datum.role === 'note'"}], "mark": {"type": "text", "font": "Liberation Serif", "fontSize": 16.5, "fontWeight": "bold", "align": "center", "baseline": "middle", "clip": true}, "encoding": {"text": {"field": "text"}}}
      ]
    },
    {
      "width": 497, "height": 79,
      "data": {"values": [{"title": "Flexure-Shear-Critical\nColumn", "across": 0.5, "down": 0.5}]},
      "mark": {"type": "text", "font": "Liberation Serif", "fontSize": 26, "fontWeight": "bold", "align": "center", "baseline": "middle", "lineBreak": "\n", "lineHeight": 31, "dy": -15},
      "encoding": {
        "x": {"field": "across", "type": "quantitative", "scale": {"domain": [0, 1]}, "axis": null},
        "y": {"field": "down", "type": "quantitative", "scale": {"domain": [0, 1]}, "axis": null},
        "text": {"field": "title"}
      }
    },
    {
      "width": 490, "height": 79,
      "data": {"values": [{"title": "Definition of Drift\nCapacity", "across": 0.5, "down": 0.5}]},
      "mark": {"type": "text", "font": "Liberation Serif", "fontSize": 26, "fontWeight": "bold", "align": "center", "baseline": "middle", "lineBreak": "\n", "lineHeight": 31, "dx": 5, "dy": -15},
      "encoding": {
        "x": {"field": "across", "type": "quantitative", "scale": {"domain": [0, 1]}, "axis": null},
        "y": {"field": "down", "type": "quantitative", "scale": {"domain": [0, 1]}, "axis": null},
        "text": {"field": "title"}
      }
    },
    {
      "width": 497, "height": 389,
      "encoding": {
        "x": {"field": "drift", "type": "quantitative", "scale": {"domain": [-249, 248], "nice": false, "zero": false}, "axis": null},
        "y": {"field": "shear", "type": "quantitative", "scale": {"domain": [-193, 196], "nice": false, "zero": false}, "axis": null}
      },
      "layer": [
        {"data": {"name": "p3Loops"}, "mark": {"type": "line", "color": "#ff0000", "strokeWidth": 1.4, "interpolate": "catmull-rom", "clip": true}, "encoding": {"detail": {"field": "cycle"}, "order": {"value": null}}},
        {"data": {"name": "p3Guides"}, "mark": {"type": "rule", "color": "black", "strokeWidth": 1.6, "strokeDash": [5, 4], "clip": true}, "encoding": {"x2": {"field": "drift2"}, "y2": {"field": "shear2"}}},
        {"data": {"name": "p3Axes"}, "mark": {"type": "rule", "color": "black", "strokeWidth": 4, "clip": true}, "encoding": {"x2": {"field": "drift2"}, "y2": {"field": "shear2"}}},
        {"data": {"name": "p3Axes"}, "transform": [{"calculate": "atan2(datum.drift2 - datum.drift, datum.shear2 - datum.shear) * 180 / PI", "as": "heading"}, {"calculate": "datum.drift2", "as": "drift"}, {"calculate": "datum.shear2", "as": "shear"}], "mark": {"type": "point", "shape": "M0,0L0.8,1.5L-0.8,1.5Z", "filled": true, "color": "black", "opacity": 1, "size": 400, "clip": true}, "encoding": {"angle": {"field": "heading", "type": "quantitative", "scale": null}}},
        {"data": {"name": "p3Backbone"}, "mark": {"type": "line", "color": "black", "strokeWidth": 3.5, "strokeJoin": "miter", "clip": true}, "encoding": {"order": {"value": null}}},
        {"data": {"name": "p3Pointers"}, "mark": {"type": "rule", "color": "black", "strokeWidth": 2.2, "clip": true}, "encoding": {"x2": {"field": "drift2"}, "y2": {"field": "shear2"}}},
        {"data": {"name": "p3Pointers"}, "transform": [{"calculate": "atan2(datum.drift2 - datum.drift, datum.shear2 - datum.shear) * 180 / PI", "as": "heading"}, {"calculate": "datum.drift2", "as": "drift"}, {"calculate": "datum.shear2", "as": "shear"}], "mark": {"type": "point", "shape": "M0,0L0.55,1.35L-0.55,1.35Z", "filled": true, "color": "black", "opacity": 1, "size": 400, "clip": true}, "encoding": {"angle": {"field": "heading", "type": "quantitative", "scale": null}}},
        {"data": {"name": "p3Labels"}, "transform": [{"filter": "datum.role === 'V'"}], "mark": {"type": "text", "font": "Liberation Serif", "fontSize": 28, "fontStyle": "italic", "align": "center", "baseline": "middle", "clip": true}, "encoding": {"text": {"field": "text"}}},
        {"data": {"name": "p3Labels"}, "transform": [{"filter": "datum.role === 'sub'"}], "mark": {"type": "text", "font": "Liberation Serif", "fontSize": 17, "fontStyle": "italic", "align": "center", "baseline": "middle", "clip": true}, "encoding": {"text": {"field": "text"}}},
        {"data": {"name": "p3Labels"}, "transform": [{"filter": "datum.role === 'op'"}], "mark": {"type": "text", "font": "Liberation Serif", "fontSize": 27, "align": "center", "baseline": "middle", "clip": true}, "encoding": {"text": {"field": "text"}}},
        {"data": {"name": "p3Labels"}, "transform": [{"filter": "datum.role === 'delta'"}], "mark": {"type": "text", "font": "Liberation Serif", "fontSize": 27, "fontStyle": "italic", "fontWeight": "bold", "align": "center", "baseline": "middle", "clip": true}, "encoding": {"text": {"field": "text"}}},
        {"data": {"name": "p3Labels"}, "transform": [{"filter": "datum.role === 'dsub'"}], "mark": {"type": "text", "font": "Liberation Serif", "fontSize": 17, "fontStyle": "italic", "fontWeight": "bold", "align": "center", "baseline": "middle", "clip": true}, "encoding": {"text": {"field": "text"}}},
        {"data": {"name": "p3Labels"}, "transform": [{"filter": "datum.role === 'note'"}], "mark": {"type": "text", "font": "Liberation Serif", "fontSize": 16.5, "fontWeight": "bold", "align": "center", "baseline": "middle", "clip": true}, "encoding": {"text": {"field": "text"}}}
      ]
    },
    {
      "width": 490, "height": 389,
      "encoding": {
        "x": {"field": "drift", "type": "quantitative", "scale": {"domain": [-228, 262], "nice": false, "zero": false}, "axis": null},
        "y": {"field": "shear", "type": "quantitative", "scale": {"domain": [-193, 196], "nice": false, "zero": false}, "axis": null}
      },
      "layer": [
        {"data": {"name": "p4Guides"}, "mark": {"type": "rule", "color": "black", "strokeWidth": 1.6, "strokeDash": [5, 4], "clip": true}, "encoding": {"x2": {"field": "drift2"}, "y2": {"field": "shear2"}}},
        {"data": {"name": "p4Axes"}, "mark": {"type": "rule", "color": "black", "strokeWidth": 4, "clip": true}, "encoding": {"x2": {"field": "drift2"}, "y2": {"field": "shear2"}}},
        {"data": {"name": "p4Axes"}, "transform": [{"calculate": "atan2(datum.drift2 - datum.drift, datum.shear2 - datum.shear) * 180 / PI", "as": "heading"}, {"calculate": "datum.drift2", "as": "drift"}, {"calculate": "datum.shear2", "as": "shear"}], "mark": {"type": "point", "shape": "M0,0L0.8,1.5L-0.8,1.5Z", "filled": true, "color": "black", "opacity": 1, "size": 400, "clip": true}, "encoding": {"angle": {"field": "heading", "type": "quantitative", "scale": null}}},
        {"data": {"name": "p4Backbone"}, "mark": {"type": "line", "color": "black", "strokeWidth": 3.5, "strokeJoin": "miter", "clip": true}, "encoding": {"order": {"value": null}}},
        {"data": {"name": "p4Pointers"}, "mark": {"type": "rule", "color": "black", "strokeWidth": 2.2, "clip": true}, "encoding": {"x2": {"field": "drift2"}, "y2": {"field": "shear2"}}},
        {"data": {"name": "p4Pointers"}, "transform": [{"calculate": "atan2(datum.drift2 - datum.drift, datum.shear2 - datum.shear) * 180 / PI", "as": "heading"}, {"calculate": "datum.drift2", "as": "drift"}, {"calculate": "datum.shear2", "as": "shear"}], "mark": {"type": "point", "shape": "M0,0L0.55,1.35L-0.55,1.35Z", "filled": true, "color": "black", "opacity": 1, "size": 400, "clip": true}, "encoding": {"angle": {"field": "heading", "type": "quantitative", "scale": null}}},
        {"data": {"name": "p4Labels"}, "transform": [{"filter": "datum.role === 'V'"}], "mark": {"type": "text", "font": "Liberation Serif", "fontSize": 28, "fontStyle": "italic", "align": "center", "baseline": "middle", "clip": true}, "encoding": {"text": {"field": "text"}}},
        {"data": {"name": "p4Labels"}, "transform": [{"filter": "datum.role === 'sub'"}], "mark": {"type": "text", "font": "Liberation Serif", "fontSize": 17, "fontStyle": "italic", "align": "center", "baseline": "middle", "clip": true}, "encoding": {"text": {"field": "text"}}},
        {"data": {"name": "p4Labels"}, "transform": [{"filter": "datum.role === 'op'"}], "mark": {"type": "text", "font": "Liberation Serif", "fontSize": 28, "align": "center", "baseline": "middle", "clip": true}, "encoding": {"text": {"field": "text"}}},
        {"data": {"name": "p4Labels"}, "transform": [{"filter": "datum.role === 'delta'"}], "mark": {"type": "text", "font": "Liberation Serif", "fontSize": 27, "fontStyle": "italic", "fontWeight": "bold", "align": "center", "baseline": "middle", "clip": true}, "encoding": {"text": {"field": "text"}}},
        {"data": {"name": "p4Labels"}, "transform": [{"filter": "datum.role === 'dsub'"}], "mark": {"type": "text", "font": "Liberation Serif", "fontSize": 17, "fontStyle": "italic", "fontWeight": "bold", "align": "center", "baseline": "middle", "clip": true}, "encoding": {"text": {"field": "text"}}},
        {"data": {"name": "p4Labels"}, "transform": [{"filter": "datum.role === 'note'"}], "mark": {"type": "text", "font": "Liberation Serif", "fontSize": 16.5, "fontWeight": "bold", "align": "center", "baseline": "middle", "clip": true}, "encoding": {"text": {"field": "text"}}}
      ]
    }
  ]
}
